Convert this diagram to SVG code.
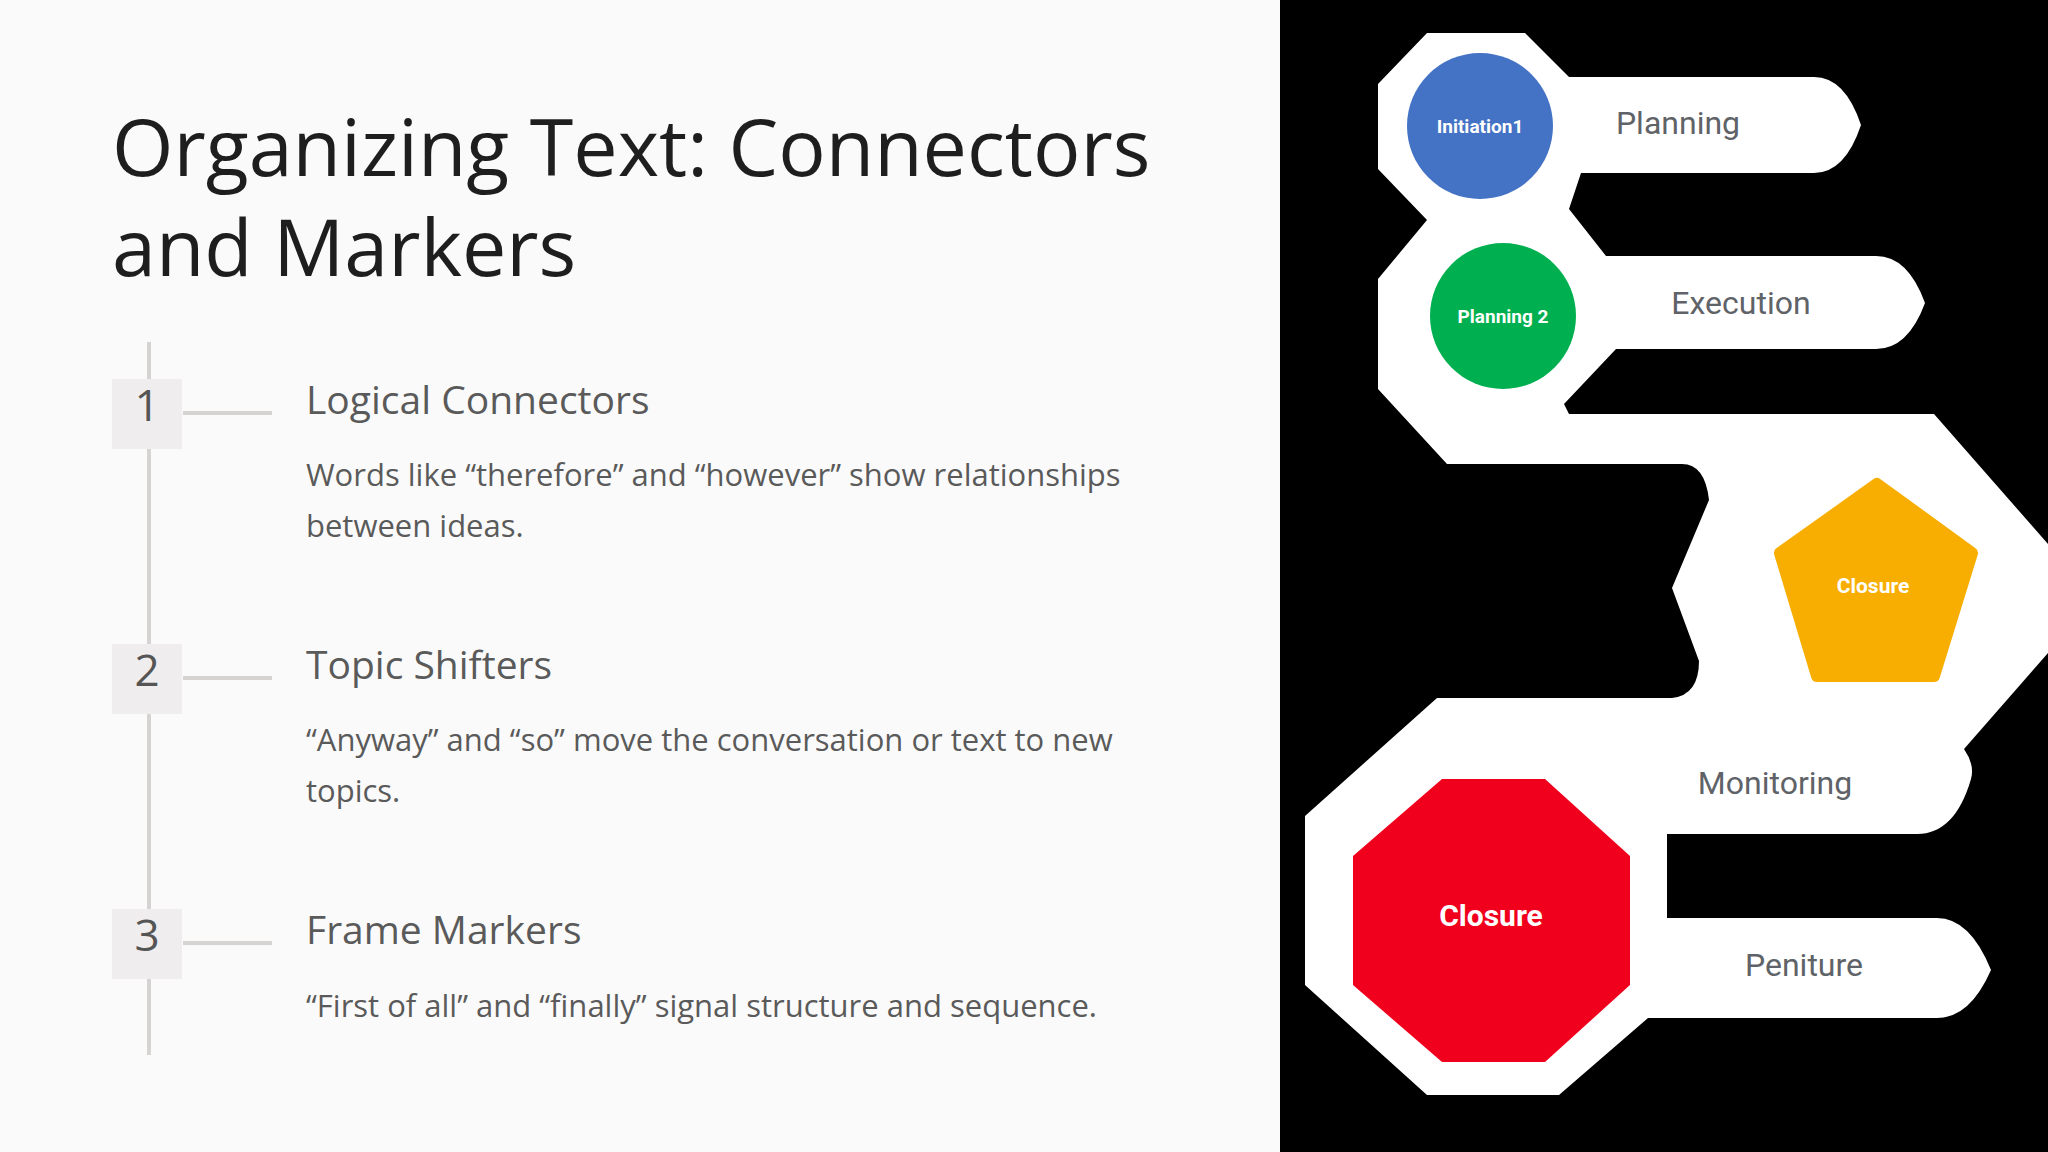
<svg xmlns="http://www.w3.org/2000/svg" width="2048" height="1152" viewBox="0 0 2048 1152">
<style>
.t{font-family:"Open Sans","Noto Sans",sans-serif}
.h{font-size:39px;fill:#5a5a5a}
.b{font-size:31px;fill:#5a5a5a}
.n{font-size:44px;fill:#555;text-anchor:middle}
.box{fill:#efeded}
.tick{stroke:#d6d3d3;stroke-width:4}
.lbl{font-family:Roboto,"Noto Sans",sans-serif;font-size:32px;fill:#5f6368;text-anchor:middle}
.w{font-family:Roboto,"Noto Sans",sans-serif;font-weight:bold;fill:#fff;text-anchor:middle}
</style>
<rect width="2048" height="1152" fill="#fafafa"/>
<text class="t" x="112" y="176" font-size="79" fill="#1e1e1e">Organizing Text: Connectors</text>
<text class="t" x="112" y="276" font-size="79" fill="#1e1e1e">and Markers</text>
<g id="timeline">
<line x1="149" y1="342" x2="149" y2="1055" class="tick"/>
<line x1="183" y1="413" x2="272" y2="413" class="tick"/>
<line x1="183" y1="678" x2="272" y2="678" class="tick"/>
<line x1="183" y1="943" x2="272" y2="943" class="tick"/>
</g>
<g id="item1">
<rect class="box" x="112" y="379" width="70" height="70"/>
<text class="t n" x="147" y="421">1</text>
<text class="t h" x="306" y="414">Logical Connectors</text>
<text class="t b" x="306" y="486">Words like “therefore” and “however” show relationships</text>
<text class="t b" x="306" y="537">between ideas.</text>
</g>
<g id="item2">
<rect class="box" x="112" y="644" width="70" height="70"/>
<text class="t n" x="147" y="686">2</text>
<text class="t h" x="306" y="679">Topic Shifters</text>
<text class="t b" x="306" y="751">“Anyway” and “so” move the conversation or text to new</text>
<text class="t b" x="306" y="802">topics.</text>
</g>
<g id="item3">
<rect class="box" x="112" y="909" width="70" height="70"/>
<text class="t n" x="147" y="951">3</text>
<text class="t h" x="306" y="944">Frame Markers</text>
<text class="t b" x="306" y="1017">“First of all” and “finally” signal structure and sequence.</text>
</g>
<rect x="1280" y="0" width="768" height="1152" fill="#000"/>
<g id="path-shape">
<path fill="#fff" d="M1378,84 L1427,33 L1525,33 L1569,77 L1814,77 Q1845,77 1861,125 Q1845,173 1814,173 L1581,173 L1569,209 L1606,256 L1876,256 Q1908,256 1925,303 Q1908,349 1876,349 L1616,349 L1564,404 L1569,414 L1934,414 L2048,544 L2048,653 L1964,749 Q1975,765 1971,779 Q1955,834 1917,834 L1667,834 L1667,918 L1937,918 Q1970,918 1991,970 Q1970,1018 1937,1018 L1648,1018 L1559,1095 L1427,1095 L1305,985 L1305,816 L1437,698 L1672,698 Q1699,695 1699,661 L1672,588 L1709,500 Q1705,464 1682,464 L1447,464 L1378,389 L1378,279 L1427,220 L1378,169 Z"/>
</g>
<g id="initiation1">
<circle cx="1480" cy="126" r="73" fill="#4472c4"/>
<text class="w" x="1480" y="133" font-size="19">Initiation1</text>
</g>
<g id="planning2">
<circle cx="1503" cy="316" r="73" fill="#00b050"/>
<text class="w" x="1503" y="323" font-size="19">Planning 2</text>
</g>
<g id="closure-pentagon">
<polygon points="1877,484 1972,553 1934,676 1817,676 1780,553" fill="#f8ae00" stroke="#f8ae00" stroke-width="12" stroke-linejoin="round"/>
<text class="w" x="1873" y="593" font-size="21">Closure</text>
</g>
<g id="closure-octagon">
<polygon points="1442,779 1545,779 1630,856 1630,985 1545,1062 1442,1062 1353,985 1353,856" fill="#f0001d"/>
<text class="w" x="1491" y="926" font-size="30">Closure</text>
</g>
<g id="labels">
<text class="lbl" x="1678" y="134">Planning</text>
<text class="lbl" x="1741" y="314">Execution</text>
<text class="lbl" x="1775" y="794">Monitoring</text>
<text class="lbl" x="1804" y="976">Peniture</text>
</g>
</svg>
